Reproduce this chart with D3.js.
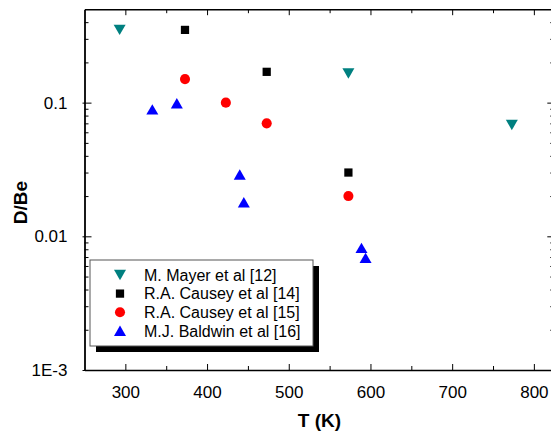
<!DOCTYPE html>
<html>
<head>
<meta charset="utf-8">
<script src="https://cdn.jsdelivr.net/npm/d3@7"></script>
<style>
  body { margin: 0; background: #fff; }
  svg { display: block; font-family: "Liberation Sans", Arial, sans-serif; }
  .axis path, .axis line { stroke: #000; }
</style>
</head>
<body>
<svg id="chart" width="551" height="432"></svg>
<script>
// series values
const seriesNames = ["M. Mayer et al [12]", "R.A. Causey et al [14]", "R.A. Causey et al [15]", "M.J. Baldwin et al [16]"];
const mayerT = [293, 573, 773];
const mayerV = [0.35, 0.165, 0.068];
const causey14T = [373, 473, 573];
const causey14V = [0.35, 0.17, 0.03];
const causey15T = [373, 423, 473, 573];
const causey15V = [0.15, 0.1, 0.07, 0.02];
const baldwinT = [333, 363, 440, 445, 589, 594];
const baldwinV = [0.089, 0.099, 0.029, 0.018, 0.0082, 0.0069];

const xMajor = [300, 400, 500, 600, 700, 800];
const xMinor = [350, 450, 550, 650, 750];
const yMajor = [0.001, 0.01, 0.1];
const yMajorLabels = ["1E-3", "0.01", "0.1"];
const yMinor = [0.002, 0.003, 0.004, 0.005, 0.006, 0.007, 0.008, 0.009,
                0.02, 0.03, 0.04, 0.05, 0.06, 0.07, 0.08, 0.09,
                0.2, 0.3, 0.4];

const plotL = 84.5, plotR = 554.3, plotT = 9.2, plotB = 370;

const x = d3.scaleLinear().domain([250, 825]).range([plotL, plotR]);
const y = d3.scaleLog().domain([0.001, 0.5]).range([plotB, plotT]);

const svg = d3.select("#chart");

// triangles centred on their box, like the original markers
const triUp = { draw(ctx) { const w = 6, h = 5.2; ctx.moveTo(0, -h); ctx.lineTo(w, h); ctx.lineTo(-w, h); ctx.closePath(); } };
const triDown = { draw(ctx) { const w = 6, h = 5.2; ctx.moveTo(0, h); ctx.lineTo(w, -h); ctx.lineTo(-w, -h); ctx.closePath(); } };

const series = [
  { name: seriesNames[0], t: mayerT, v: mayerV, color: "#008080", shape: d3.symbol().type(triDown)() },
  { name: seriesNames[1], t: causey14T, v: causey14V, color: "#000000", shape: d3.symbol().type(d3.symbolSquare).size(68)() },
  { name: seriesNames[2], t: causey15T, v: causey15V, color: "#ff0000", shape: d3.symbol().type(d3.symbolCircle).size(80)() },
  { name: seriesNames[3], t: baldwinT, v: baldwinV, color: "#0000ff", shape: d3.symbol().type(triUp)() }
];

// axes: major ticks inward, minor ticks shorter
function addAxis(axisFn, scale, values, inner, pad, fmt, tr) {
  return svg.append("g").attr("class", "axis").attr("transform", tr)
    .call(axisFn(scale).tickValues(values).tickSizeInner(inner).tickSizeOuter(0)
      .tickPadding(pad).tickFormat(fmt));
}
const none = () => "";

// bottom
const gx = addAxis(d3.axisBottom, x, xMajor, -6, 16, d3.format("d"), `translate(0,${plotB})`);
gx.select(".domain").attr("stroke-width", 1.5);
gx.selectAll("text").attr("font-size", 17).attr("fill", "#000");
addAxis(d3.axisBottom, x, xMinor, -4, 0, none, `translate(0,${plotB})`).select(".domain").remove();
// top
const gt = addAxis(d3.axisTop, x, xMajor, -6, 0, none, `translate(0,${plotT})`);
gt.select(".domain").attr("stroke-width", 1.5);
addAxis(d3.axisTop, x, xMinor, -4, 0, none, `translate(0,${plotT})`).select(".domain").remove();
// left
const gy = addAxis(d3.axisLeft, y, yMajor, -7, 17, (d, i) => yMajorLabels[i], `translate(${plotL},0)`);
gy.select(".domain").attr("stroke-width", 1.8);
gy.selectAll("text").attr("font-size", 17).attr("fill", "#000");
gy.selectAll(".tick line").attr("x1", -2);
addAxis(d3.axisLeft, y, yMinor, -4, 0, none, `translate(${plotL},0)`).select(".domain").remove();
// right
const gr = addAxis(d3.axisRight, y, yMajor, -7, 0, none, `translate(${plotR},0)`);
gr.select(".domain").attr("stroke-width", 1.5);
addAxis(d3.axisRight, y, yMinor, -4, 0, none, `translate(${plotR},0)`).select(".domain").remove();

// axis titles
svg.append("text")
  .attr("x", (plotL + plotR) / 2).attr("y", 427)
  .attr("text-anchor", "middle").attr("font-size", 19).attr("font-weight", "bold")
  .text("T (K)");
svg.append("text")
  .attr("transform", "translate(27,202.5) rotate(-90)")
  .attr("text-anchor", "middle").attr("font-size", 19).attr("font-weight", "bold")
  .text("D/Be");

// points
series.forEach(s => {
  svg.append("g").selectAll("path")
    .data(s.t.map((t, i) => [t, s.v[i]]))
    .enter().append("path")
    .attr("d", s.shape)
    .attr("fill", s.color)
    .attr("transform", d => `translate(${x(d[0])},${y(d[1])})`);
});

// legend with drop shadow
const lg = svg.append("g").attr("transform", "translate(90,260)");
const lw = 223, lh = 86;
lg.append("rect").attr("x", 6).attr("y", 6).attr("width", lw).attr("height", lh).attr("fill", "#000");
lg.append("rect").attr("width", lw).attr("height", lh).attr("fill", "#fff").attr("stroke", "#555").attr("stroke-width", 1);
const item = lg.selectAll(".item").data(series).enter().append("g")
  .attr("class", "item")
  .attr("transform", (d, i) => `translate(30,${15 + i * 18.6})`);
item.append("path").attr("d", d => d.shape).attr("fill", d => d.color);
item.append("text").attr("x", 24).attr("dy", "0.36em").attr("font-size", 16).text(d => d.name);
</script>
</body>
</html>
